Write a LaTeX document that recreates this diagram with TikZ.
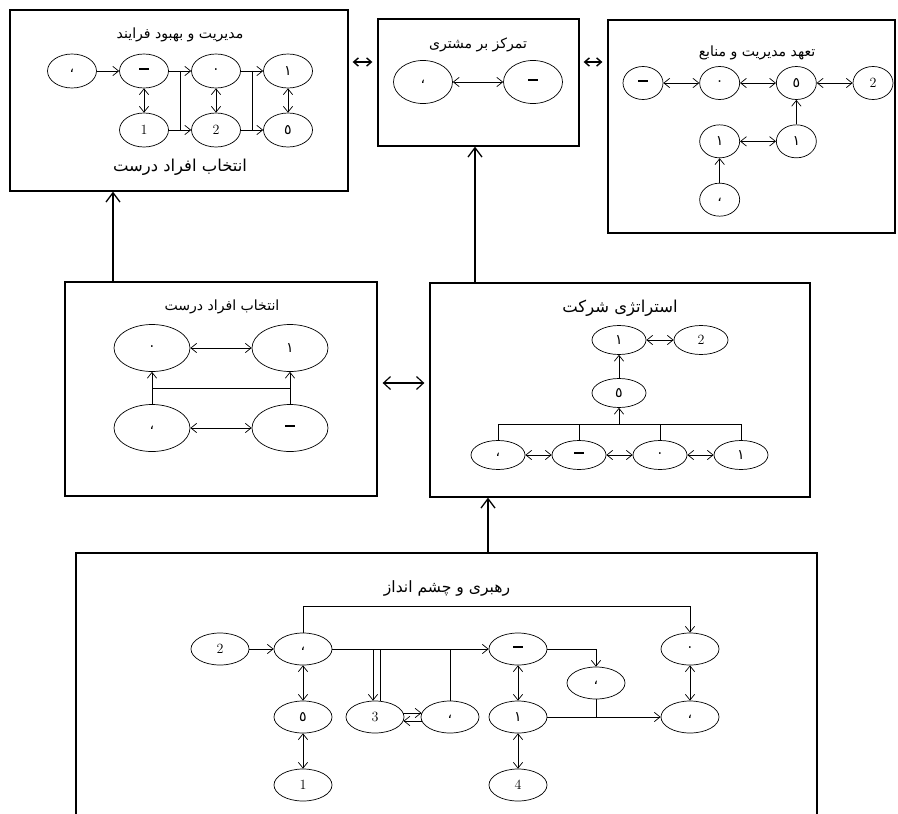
\documentclass[tikz,border=0pt]{standalone}
\usepackage{fontspec}
\newfontfamily\arabicfont[Script=Arabic]{DejaVu Sans}
\TeXXeTstate=1
\usetikzlibrary{shapes.geometric}
\usetikzlibrary{positioning, calc, arrows.meta}

\newcommand{\fa}[1]{{\arabicfont\beginR #1\endR}}
\newcommand{\fd}[1]{{\arabicfont\large #1}}
\newcommand{\dash}{\rule[0.6ex]{0.28cm}{1.2pt}}

\begin{document}
\begin{tikzpicture}
[x=0.03cm, y=-0.03cm, on grid, semithick,
                    >={Straight Barb[length=5pt,width=8pt]},
                    oval/.style={ellipse, draw, inner sep=0pt, font=\large},
                    panel/.style={draw, line width=1.1pt, inner sep=0pt},
                    title/.style={inner sep=1pt, font=\large},
                    heading/.style={inner sep=1pt, font=\fontsize{14}{16}\selectfont},
                    dbl/.style={<->, >={Straight Barb[length=4pt,width=7pt]}, line width=1.2pt, shorten <=0.12cm, shorten >=0.15cm},
                    wide/.style={<->, >={Straight Barb[length=6pt,width=11pt]}, line width=1pt, shorten <=0.15cm, shorten >=0.15cm},
                    bigarrow/.style={-{Straight Barb[length=8pt,width=12pt]}, line width=1.1pt}]
\useasboundingbox (0,0) rectangle (898,814);
\clip (0,0) rectangle (898,814);

\node[panel, minimum width=10.14cm, minimum height=5.43cm] (improve) at (179,100.5) {};
\node[panel, minimum width=6.03cm, minimum height=3.81cm] (customer) at (478.5,82.5) {};
\node[panel, minimum width=8.61cm, minimum height=6.39cm] (commit) at (751.5,126.5) {};
\node[panel, minimum width=9.36cm, minimum height=6.42cm] (people) at (221,389) {};
\node[panel, minimum width=11.4cm, minimum height=6.42cm] (strategy) at (620,390) {};
\node[panel, minimum width=22.23cm, minimum height=8.61cm] (lead) at (446.5,696.5) {};

\begin{scope}[oval/.append style={minimum width=1.47cm, minimum height=1.02cm}, node distance=1.77cm and 2.16cm]
\node[title] (tImprove) at (180,35) {\fa{مدیریت و بهبود فرایند}};
\node[heading] (tSelect) at (180,167) {\fa{انتخاب افراد درست}};
\node[oval] (i1) at (72,71) {\fd{،}};
\node[oval, right=of i1] (i2) {\dash};
\node[oval, right=of i2] (i3) {\fd{٠}};
\node[oval, right=of i3] (i4) {\fd{١}};
\node[oval, below=of i2] (i5) {1};
\node[oval, below=of i3] (i6) {2};
\node[oval, below=of i4] (i7) {\fd{٥}};
\end{scope}

\path[->] (i1) edge (i2)
	(i2) edge (i3)
	(i3) edge (i4)
	(i5) edge (i6)
	(i6) edge (i7);
\path[<->] (i2) edge (i5)
	(i3) edge (i6)
	(i4) edge (i7);
\draw ($(i2)!0.5!(i3)$) -- ($(i5)!0.5!(i6)$);
\draw ($(i3)!0.5!(i4)$) -- ($(i6)!0.5!(i7)$);

\begin{scope}[oval/.append style={minimum width=1.77cm, minimum height=1.29cm}]
\node[title] (tCustomer) at (478,45) {\fa{تمرکز بر مشتری}};
\node[oval] (c1) at (423,82) {\fd{،}};
\node[oval, right=3.3cm of c1] (c2) {\dash};
\end{scope}

\path[<->] (c1) edge (c2);

\begin{scope}[oval/.append style={minimum width=1.2cm, minimum height=0.99cm}, node distance=1.75cm and 2.3cm]
\node[title] (tCommit) at (757,53) {\fa{تعهد مدیریت و منابع}};
\node[oval] (m1) at (643,83) {\dash};
\node[oval, right=of m1] (m2) {\fd{٠}};
\node[oval, right=of m2] (m3) {\fd{٥}};
\node[oval, right=of m3] (m4) {2};
\node[oval, below=of m2] (m5) {\fd{١}};
\node[oval, below=of m3] (m6) {\fd{١}};
\node[oval, below=of m5] (m7) {\fd{،}};
\end{scope}

\path[<->] (m1) edge (m2)
	(m2) edge (m3)
	(m3) edge (m4)
	(m5) edge (m6);
\path[->] (m6) edge (m3)
	(m7) edge (m5);

\begin{scope}[oval/.append style={minimum width=2.28cm, minimum height=1.41cm}, node distance=2.4cm and 4.14cm]
\node[title] (tPeople) at (222,307) {\fa{انتخاب افراد درست}};
\node[oval] (p1) at (152,348) {\fd{٠}};
\node[oval, right=of p1] (p2) {\fd{١}};
\node[oval, below=of p1] (p3) {\fd{،}};
\node[oval, below=of p2] (p4) {\dash};
\end{scope}

\path[<->] (p1) edge (p2)
	(p3) edge (p4);
\path[->] (p3) edge (p1)
	(p4) edge (p2);
\draw ($(p1)!0.5!(p3)$) -- ($(p2)!0.5!(p4)$);

\begin{scope}[oval/.append style={minimum width=1.62cm, minimum height=0.87cm}, node distance=1.59cm and 2.43cm]
\node[heading] (tStrategy) at (620,308) {\fa{استراتژی شرکت}};
\node[oval] (s3) at (619,393) {\fd{٥}};
\node[oval, above=of s3] (s1) {\fd{١}};
\node[oval, right=2.46cm of s1] (s2) {2};
\node[oval] (s4) at (498,455) {\fd{،}};
\node[oval, right=of s4] (s5) {\dash};
\node[oval, right=of s5] (s6) {\fd{٠}};
\node[oval, right=of s6] (s7) {\fd{١}};
\coordinate (sbus) at ($(s3.south)!0.5!(s5.north)$);
\end{scope}

\path[<->] (s1) edge (s2)
	(s4) edge (s5)
	(s5) edge (s6)
	(s6) edge (s7);
\path[->] (s3) edge (s1);
\draw (s4.north) |- (sbus -| s7) -- (s7.north);
\draw (s5.north) -- (s5 |- sbus);
\draw (s6.north) -- (s6 |- sbus);
\draw[->] (sbus -| s3) -- (s3.south);

\begin{scope}[oval/.append style={minimum width=1.74cm, minimum height=0.96cm}, node distance=2.04cm and 2.49cm]
\node[heading, font=\fontsize{13.3}{16}\selectfont] (tLead) at (447,588) {\fa{رهبری و چشم انداز}};
\node[oval] (l1) at (220,649) {2};
\node[oval, right=of l1] (l2) {\fd{،}};
\node[oval, below=of l2] (l3) {\fd{٥}};
\node[oval, below=of l3] (l4) {1};
\node[oval] (l5) at (375,717) {3};
\node[oval] (l6) at (450,717) {\fd{،}};
\node[oval] (l7) at (518,649) {\dash};
\node[oval, below=of l7] (l11) {\fd{١}};
\node[oval, below=of l11] (l12) {4};
\node[oval] (l8) at (596,683) {\fd{،}};
\node[oval, right=5.16cm of l7] (l9) {\fd{٠}};
\node[oval, below=of l9] (l10) {\fd{،}};
\coordinate (ltop) at (0,606);
\coordinate (l5a) at ([xshift=-0.06cm]l5.north);
\coordinate (l5b) at ([xshift=0.15cm]l5.north);
\end{scope}

\path[->] (l1) edge (l2)
	(l2) edge (l7)
	(l11) edge (l10)
	(l5.8) edge (l6.172)
	(l6.-172) edge (l5.-8);
\path[<->] (l2) edge (l3)
	(l3) edge (l4)
	(l7) edge (l11)
	(l11) edge (l12)
	(l9) edge (l10);
\draw[->] (l2.north) |- (ltop -| l9) -- (l9.north);
\draw[->] (l7.east) -| (l8.north);
\draw (l8.south) -- (l8 |- l11);
\draw[->] (l5a |- l2) -- (l5a);
\draw (l5b |- l2) -- (l5b);
\draw (l6 |- l2) -- (l6.north);

\draw[dbl] (improve.east |- 0,62) -- (customer.west |- 0,62);
\draw[dbl] (customer.east |- 0,62) -- (commit.west |- 0,62);
\draw[wide] (people.east |- 0,383) -- (strategy.west |- 0,383);
\draw[bigarrow] (people.north -| 113,0) -- (improve.south -| 113,0);
\draw[bigarrow] (strategy.north -| 475,0) -- (customer.south -| 475,0);
\draw[bigarrow] (lead.north -| 488,0) -- (strategy.south -| 488,0);

\end{tikzpicture}
\end{document}
